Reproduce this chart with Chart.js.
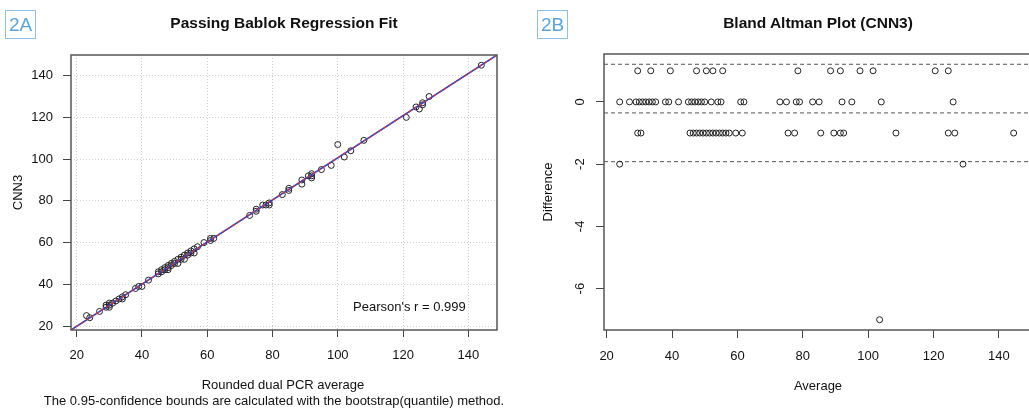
<!DOCTYPE html>
<html>
<head>
<meta charset="utf-8">
<script src="https://cdn.jsdelivr.net/npm/chart.js@4.4.1/dist/chart.umd.min.js"></script>
<style>
  html, body { margin: 0; padding: 0; background: #fff; width: 1029px; height: 412px; overflow: hidden;
               font-family: "Liberation Sans", Arial, sans-serif; color: #111; }
  .abs { position: absolute; white-space: nowrap; }
  .tag { position: absolute; width: 29px; height: 27px; border: 1.5px solid #8cc0e6; color: #5aa6dc;
         font-size: 19px; line-height: 27px; text-align: center; }
  .title { font-weight: bold; font-size: 15.5px; transform: translateX(-50%); }
  .lbl { font-size: 13px; }
  .center { transform: translateX(-50%); }
</style>
</head>
<body>
<div style="position:absolute;left:0;top:0"><canvas id="pb" width="515" height="412"></canvas></div>
<div style="position:absolute;left:520px;top:0"><canvas id="ba" width="515" height="412"></canvas></div>

<div class="tag" style="left:5px;top:10px">2A</div>
<div class="tag" style="left:537px;top:10px">2B</div>
<div class="abs title" style="left:284px;top:14px">Passing Bablok Regression Fit</div>
<div class="abs title" style="left:818px;top:14px">Bland Altman Plot (CNN3)</div>
<div class="abs lbl center" style="left:283px;top:377px">Rounded dual PCR average</div>
<div class="abs lbl center" style="left:274px;top:393px">The 0.95-confidence bounds are calculated with the bootstrap(quantile) method.</div>
<div class="abs lbl center" style="left:818px;top:378px">Average</div>
<div class="abs lbl" style="left:353px;top:299px">Pearson's r = 0.999</div>

<script>
/* ── data ────────────────────────────────────────────────────────── */
// paired measurements: rounded dual PCR average vs CNN3
const pcrValues = [
  30, 34, 40, 48, 51, 53, 56, 79, 89, 92, 98, 102, 121, 125,
  24, 27, 29, 30, 31, 32, 33, 34, 35, 38, 39, 42, 45, 46, 47, 48, 49, 50, 52, 54, 55,
  61, 62, 73, 75, 78, 79, 83, 85, 92, 95, 104, 126,
  29, 30, 45, 46, 47, 48, 49, 50, 51, 52, 53, 54, 55, 56, 57, 59, 61, 75, 77, 85,
  89, 91, 92, 108, 124, 126, 144,
  23, 128,
  100,
];
const cnnValues = [
  29, 33, 39, 47, 50, 52, 55, 78, 88, 91, 97, 101, 120, 124,
  24, 27, 29, 30, 31, 32, 33, 34, 35, 38, 39, 42, 45, 46, 47, 48, 49, 50, 52, 54, 55,
  61, 62, 73, 75, 78, 79, 83, 85, 92, 95, 104, 126,
  30, 31, 46, 47, 48, 49, 50, 51, 52, 53, 54, 55, 56, 57, 58, 60, 62, 76, 78, 86,
  90, 92, 93, 109, 125, 127, 145,
  25, 130,
  107,
];

const pbXTicks = [20, 40, 60, 80, 100, 120, 140];
const pbYTicks = [20, 40, 60, 80, 100, 120, 140];
const baXTicks = [20, 40, 60, 80, 100, 120, 140];
const baYTicks = [-6, -4, -2, 0];

const pbIntercept = -0.33;   // Passing-Bablok fit
const pbSlope     = 1.0096;
const baLimits    = [1.21, -0.354, -1.92];   // upper LoA, mean diff, lower LoA

/* ── shared bits ─────────────────────────────────────────────────── */
const FONT = '"Liberation Sans", Arial, sans-serif';
Chart.defaults.font.family = FONT;
Chart.defaults.font.size = 13;
Chart.defaults.color = '#111';
Chart.defaults.animation = false;

const PB_X = { min: 18.25, max: 148.8 };
const PB_Y = { min: 18.1,  max: 149.9 };
const BA_X = { min: 19.2,  max: 149.8 };
const BA_Y = { min: -7.33, max: 1.54 };

const boxPlugin = {
  id: 'box',
  afterDraw(chart) {
    const { ctx, chartArea: a } = chart;
    ctx.save();
    ctx.strokeStyle = '#555';
    ctx.lineWidth = 1.5;
    ctx.strokeRect(a.left, a.top, a.right - a.left, a.bottom - a.top);
    ctx.restore();
  },
};

// rotated text (R style, reads bottom to top)
function drawUp(ctx, text, x, y) {
  ctx.save();
  ctx.translate(x, y);
  ctx.rotate(-Math.PI / 2);
  ctx.fillText(text, 0, 0);
  ctx.restore();
}

const yTitle = (text, x) => ({
  id: 'yTitle',
  afterDraw(chart) {
    const { ctx, chartArea: a } = chart;
    ctx.save();
    ctx.font = '13px ' + FONT;
    ctx.fillStyle = '#111';
    ctx.textAlign = 'center';
    ctx.textBaseline = 'middle';
    drawUp(ctx, text, x, (a.top + a.bottom) / 2);
    ctx.restore();
  },
});

const rotatedYLabels = {
  id: 'rotY',
  afterDraw(chart) {
    const s = chart.scales.y, ctx = chart.ctx;
    ctx.save();
    ctx.font = '13px ' + FONT;
    ctx.fillStyle = '#111';
    ctx.textAlign = 'center';
    ctx.textBaseline = 'middle';
    s.ticks.forEach(t => drawUp(ctx, String(t.value), s.right - 24, s.getPixelForValue(t.value)));
    ctx.restore();
  },
};

const fixTicks = arr => s => { s.ticks = arr.map(v => ({ value: v })); };

function axis(range, ticks, fit, opts) {
  return Object.assign({
    type: 'linear',
    min: range.min, max: range.max,
    afterBuildTicks: fixTicks(ticks),
    afterFit: fit,
    border: { display: false },
    ticks: { color: '#111', font: { size: 13 } },
  }, opts);
}

const circles = {
  pointStyle: 'circle', pointRadius: 3, pointHoverRadius: 3,
  pointBorderColor: '#222', pointBackgroundColor: 'rgba(0,0,0,0)', pointBorderWidth: 1,
  showLine: false,
};

/* ── 2A: Passing Bablok ──────────────────────────────────────────── */
const pbPoints = pcrValues.map((x, i) => ({ x, y: cnnValues[i] }));
const fitLine  = [PB_X.min, PB_X.max].map(x => ({ x, y: pbIntercept + pbSlope * x }));

const pbGrid = {
  color: '#d0d0d0', lineWidth: 1,
  tickColor: '#444', tickLength: 8, tickWidth: 1, tickBorderDash: [],
};

new Chart(document.getElementById('pb'), {
  type: 'scatter',
  data: {
    datasets: [
      { type: 'line', data: fitLine, borderColor: '#d8333a', borderWidth: 1.2, borderDash: [3, 3], pointRadius: 0, order: 0 },
      { type: 'line', data: fitLine, borderColor: '#3440c4', borderWidth: 1.6, pointRadius: 0, order: 1 },
      Object.assign({ data: pbPoints, order: 2 }, circles),
    ],
  },
  options: {
    responsive: false,
    layout: { padding: { top: 55, right: 18, left: 0, bottom: 0 } },
    plugins: { legend: { display: false }, tooltip: { enabled: false } },
    scales: {
      x: axis(PB_X, pbXTicks, s => { s.height = 82; }, {
        grid: Object.assign({}, pbGrid, { tickLength: 7 }),
        border: { display: false, dash: [1, 2] },
        ticks: { color: '#111', font: { size: 13 }, padding: 11, maxRotation: 0 },
      }),
      y: axis(PB_Y, pbYTicks, s => { s.width = 71; }, {
        grid: pbGrid,
        border: { display: false, dash: [1, 2] },
        ticks: { color: '#111', font: { size: 13 }, padding: 10 },
      }),
    },
  },
  plugins: [boxPlugin, yTitle('CNN3', 18)],
});

/* ── 2B: Bland Altman ────────────────────────────────────────────── */
const baPoints = pcrValues.map((x, i) => ({ x: (x + cnnValues[i]) / 2, y: x - cnnValues[i] }));
const limitSets = baLimits.map(v => ({
  type: 'line',
  data: [{ x: BA_X.min, y: v }, { x: BA_X.max, y: v }],
  borderColor: '#555', borderWidth: 1, borderDash: [4, 3], pointRadius: 0, order: 1,
}));

const baGrid = {
  drawOnChartArea: false,
  tickColor: '#444', tickLength: 8, tickWidth: 1, tickBorderDash: [],
};

new Chart(document.getElementById('ba'), {
  type: 'scatter',
  data: {
    datasets: [Object.assign({ data: baPoints, order: 0 }, circles)].concat(limitSets),
  },
  options: {
    responsive: false,
    layout: { padding: { top: 54, right: 1.5, left: 0, bottom: 0 } },
    plugins: { legend: { display: false }, tooltip: { enabled: false } },
    scales: {
      x: axis(BA_X, baXTicks, s => { s.height = 82; }, {
        grid: baGrid,
        ticks: { color: '#111', font: { size: 13 }, padding: 11, maxRotation: 0 },
      }),
      y: axis(BA_Y, baYTicks, s => { s.width = 84; }, {
        grid: baGrid,
        ticks: { display: false },
      }),
    },
  },
  plugins: [boxPlugin, rotatedYLabels, yTitle('Difference', 28)],
});
</script>
</body>
</html>
